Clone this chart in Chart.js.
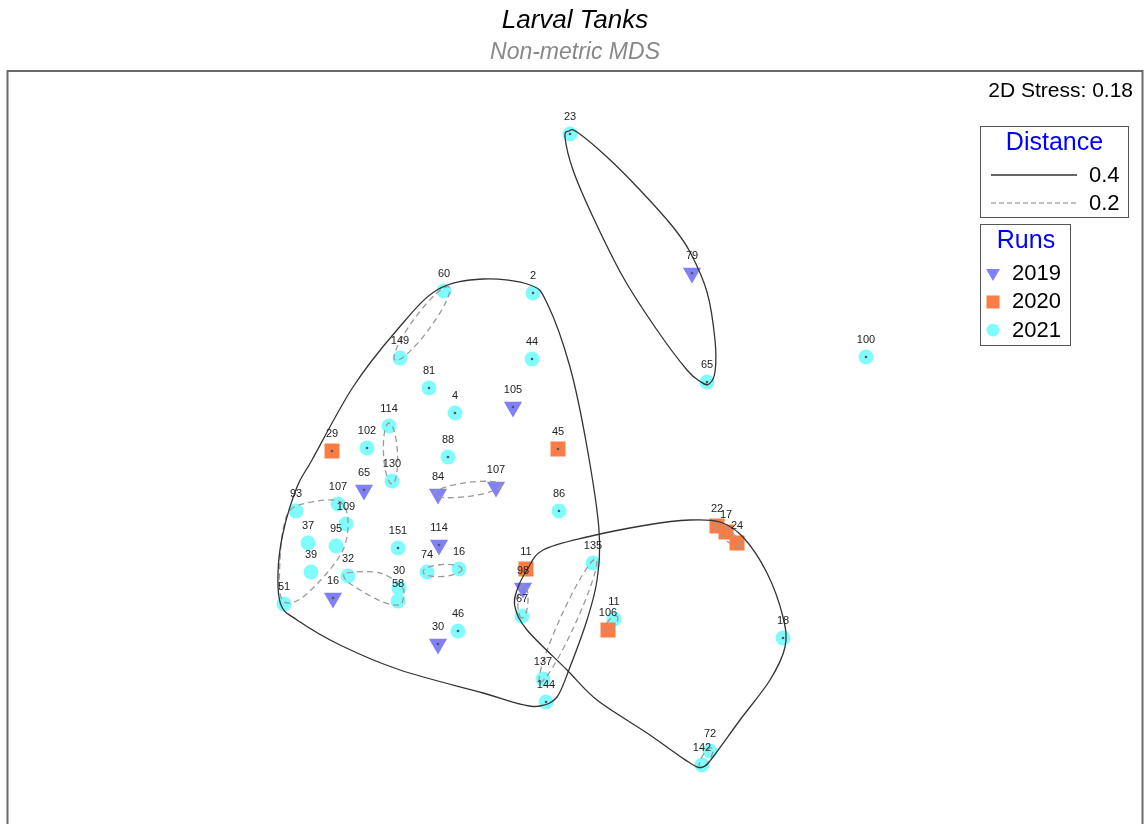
<!DOCTYPE html>
<html><head><meta charset="utf-8">
<script src="https://cdn.jsdelivr.net/npm/chart.js@4.4.1/dist/chart.umd.min.js"></script>
<style>html,body{margin:0;padding:0;background:#fff;overflow:hidden;}#wrap{position:relative;width:1145px;height:860px;}</style>
</head><body><div id="wrap"><canvas id="c"></canvas></div>
<script>
// ---- Data (MDS coordinates) ----
const labels2019 = ['79','105','65','84','107','114','16','30','98'];
const x2019 = [0.585,-0.31,-1.055,-0.685,-0.395,-0.68,-1.21,-0.685,-0.26];
const y2019 = [0.835,0.165,-0.25,-0.27,-0.235,-0.525,-0.79,-1.02,-0.74];
const dots2019 = [1,1,1,0,0,1,1,1,0];

const labels2020 = ['29','45','11','106','22','17','24'];
const x2020 = [-1.215,-0.085,-0.245,0.165,0.71,0.755,0.81];
const y2020 = [-0.055,-0.045,-0.645,-0.95,-0.43,-0.46,-0.515];
const dots2020 = [1,1,0,0,0,0,0];

const labels2021 = ['23','65','100','60','2','149','44','81','4','114','102','88','130','86','93','107','109','37','95','151','39','32','30','58','51','74','16','46','67','135','137','144','11','18','72','142'];
const x2021 = [-0.025,0.66,1.455,-0.655,-0.21,-0.875,-0.215,-0.73,-0.6,-0.93,-1.04,-0.635,-0.915,-0.08,-1.395,-1.185,-1.145,-1.335,-1.195,-0.885,-1.32,-1.135,-0.88,-0.885,-1.455,-0.74,-0.58,-0.585,-0.265,0.09,-0.16,-0.145,0.195,1.04,0.675,0.635];
const y2021 = [1.53,0.29,0.415,0.745,0.735,0.41,0.405,0.26,0.135,0.07,-0.04,-0.085,-0.205,-0.355,-0.355,-0.32,-0.42,-0.515,-0.53,-0.54,-0.66,-0.68,-0.74,-0.805,-0.82,-0.66,-0.645,-0.955,-0.88,-0.615,-1.195,-1.31,-0.895,-0.99,-1.555,-1.625];
const dots2021 = [1,1,1,0,1,0,1,1,1,0,1,1,0,1,0,0,0,0,0,1,0,0,0,0,0,0,0,1,0,0,0,1,0,1,0,0];

// Cluster contours at distance 0.4 (solid), outline points
const contour04 = [
  [[-0.69,0.75],[-0.46,0.805],[-0.225,0.775],[-0.14,0.685],[-0.025,0.365],[0.06,-0.035],[0.12,-0.45],[0.11,-0.70],[0.06,-0.90],[-0.025,-1.135],[-0.09,-1.285],[-0.175,-1.33],[-0.275,-1.32],[-0.46,-1.265],[-0.875,-1.15],[-1.175,-1.025],[-1.39,-0.90],[-1.47,-0.825],[-1.485,-0.665],[-1.46,-0.465],[-1.39,-0.235],[-1.315,-0.10],[-1.11,0.265],[-0.89,0.55]],
  [[-0.05,1.515],[-0.03,1.545],[0.01,1.54],[0.16,1.415],[0.325,1.25],[0.49,1.065],[0.575,0.94],[0.66,0.74],[0.70,0.50],[0.70,0.34],[0.67,0.28],[0.63,0.29],[0.56,0.35],[0.41,0.55],[0.24,0.815],[0.09,1.115],[-0.01,1.35]],
  [[-0.24,-0.65],[-0.16,-0.55],[0.06,-0.485],[0.36,-0.425],[0.575,-0.40],[0.725,-0.41],[0.84,-0.485],[0.96,-0.665],[1.04,-0.885],[1.05,-1.035],[0.975,-1.20],[0.825,-1.40],[0.69,-1.585],[0.64,-1.635],[0.575,-1.615],[0.36,-1.465],[0.11,-1.30],[-0.04,-1.15],[-0.24,-0.95],[-0.30,-0.835],[-0.29,-0.75]]
];
// Cluster contours at distance 0.2 (dashed), outline points
const contour02 = [
  [[-1.14,-0.665],[-0.975,-0.665],[-0.865,-0.735],[-0.86,-0.80],[-0.885,-0.825],[-0.96,-0.81],[-1.075,-0.75],[-1.145,-0.70]],
  [[-1.425,-0.35],[-1.34,-0.315],[-1.21,-0.30],[-1.15,-0.335],[-1.135,-0.435],[-1.16,-0.55],[-1.24,-0.665],[-1.36,-0.785],[-1.44,-0.815],[-1.475,-0.765],[-1.475,-0.60],[-1.46,-0.45]]
];
// Pairwise 0.2 contours as ellipses: end1 x,y, end2 x,y, half-width
const ellipse02 = [
  [-0.63,0.765,-0.90,0.40,0.045],
  [-0.93,0.085,-0.915,-0.22,0.035],
  [-0.705,-0.27,-0.37,-0.225,0.035],
  [-0.76,-0.66,-0.565,-0.645,0.03],
  [0.105,-0.595,-0.175,-1.21,0.04],
  [-0.255,-0.725,-0.265,-0.89,0.025],
  [0.155,-0.955,0.21,-0.88,0.02],
  [0.695,-0.415,0.83,-0.535,0.025],
  [0.685,-1.54,0.625,-1.64,0.02]
];
const runNames = ['2019','2020','2021'];
const distNames = ['0.4','0.2'];
const stressText = '2D Stress: 0.18';

const COL19 = '#8080f8', COL20 = '#fb7d45', COL21 = '#80fcfc';
const FONT = '"Liberation Sans", Arial, sans-serif';

function pts(xs, ys){ return xs.map((x,i)=>({x:x,y:ys[i]})); }

function closedSpline(ctx, P){
  const n = P.length;
  ctx.beginPath();
  ctx.moveTo(P[0][0], P[0][1]);
  for(let i=0;i<n;i++){
    const p0=P[(i-1+n)%n], p1=P[i], p2=P[(i+1)%n], p3=P[(i+2)%n];
    ctx.bezierCurveTo(p1[0]+(p2[0]-p0[0])/6, p1[1]+(p2[1]-p0[1])/6,
                      p2[0]-(p3[0]-p1[0])/6, p2[1]-(p3[1]-p1[1])/6, p2[0], p2[1]);
  }
  ctx.closePath();
}

const overlay = {
  id:'overlay',
  afterDatasetsDraw(chart){
    const ctx = chart.ctx, xs = chart.scales.x, ys = chart.scales.y, a = chart.chartArea;
    const px = v=>xs.getPixelForValue(v), py = v=>ys.getPixelForValue(v);
    const unit = px(1)-px(0);
    ctx.save();
    // small centre dots
    const groups = [[x2019,y2019,dots2019],[x2020,y2020,dots2020],[x2021,y2021,dots2021]];
    ctx.fillStyle = '#555';
    groups.forEach(g=>{ g[0].forEach((x,i)=>{ if(g[2][i]){ ctx.beginPath(); ctx.arc(px(x),py(g[1][i]),1.3,0,Math.PI*2); ctx.fill(); } }); });
    // dashed 0.2 contours
    ctx.strokeStyle = '#9a9a9a'; ctx.lineWidth = 1.3; ctx.setLineDash([6,4]);
    contour02.forEach(c=>{ closedSpline(ctx, c.map(p=>[px(p[0]),py(p[1])])); ctx.stroke(); });
    ellipse02.forEach(e=>{
      const x1=px(e[0]), y1=py(e[1]), x2=px(e[2]), y2=py(e[3]);
      const cx=(x1+x2)/2, cy=(y1+y2)/2, ra=Math.hypot(x2-x1,y2-y1)/2, rb=e[4]*unit;
      ctx.beginPath(); ctx.ellipse(cx,cy,ra,rb,Math.atan2(y2-y1,x2-x1),0,Math.PI*2); ctx.stroke();
    });
    // solid 0.4 contours
    ctx.setLineDash([]); ctx.strokeStyle = '#333'; ctx.lineWidth = 1.3;
    contour04.forEach(c=>{ closedSpline(ctx, c.map(p=>[px(p[0]),py(p[1])])); ctx.stroke(); });
    // point labels
    ctx.fillStyle = '#222'; ctx.font = '11px '+FONT; ctx.textAlign='center'; ctx.textBaseline='middle';
    const lg = [[x2019,y2019,labels2019],[x2020,y2020,labels2020],[x2021,y2021,labels2021]];
    lg.forEach(g=>{ g[0].forEach((x,i)=>{ ctx.fillText(g[2][i], px(x), py(g[1][i])-17); }); });
    // frame
    ctx.strokeStyle = '#6a6a6a'; ctx.lineWidth = 2;
    ctx.strokeRect(a.left, a.top, a.right-a.left, a.bottom-a.top);
    // titles
    ctx.textBaseline='alphabetic';
    ctx.fillStyle='#000'; ctx.font='italic 26px '+FONT; ctx.fillText('Larval Tanks', 575, 28);
    ctx.fillStyle='#888'; ctx.font='italic 23px '+FONT; ctx.fillText('Non-metric MDS', 575, 59);
    // stress
    ctx.fillStyle='#000'; ctx.font='21px '+FONT; ctx.textAlign='right'; ctx.fillText(stressText, 1133, 97);
    // Distance legend box
    ctx.lineWidth=1; ctx.strokeStyle='#555';
    ctx.strokeRect(980.5,126.5,148,91);
    ctx.textAlign='center'; ctx.fillStyle='#0000ff'; ctx.font='25px '+FONT; ctx.fillText('Distance', 1054.5, 150);
    ctx.strokeStyle='#333'; ctx.lineWidth=1.3; ctx.beginPath(); ctx.moveTo(991,175); ctx.lineTo(1077,175); ctx.stroke();
    ctx.strokeStyle='#aaa'; ctx.setLineDash([5,3]); ctx.beginPath(); ctx.moveTo(991,203); ctx.lineTo(1077,203); ctx.stroke(); ctx.setLineDash([]);
    ctx.fillStyle='#000'; ctx.font='22px '+FONT; ctx.textAlign='left';
    ctx.fillText(distNames[0], 1089, 182); ctx.fillText(distNames[1], 1089, 210);
    // Runs legend box
    ctx.strokeStyle='#555'; ctx.lineWidth=1; ctx.strokeRect(980.5,224.5,90,121);
    ctx.textAlign='center'; ctx.fillStyle='#0000ff'; ctx.font='25px '+FONT; ctx.fillText('Runs', 1026, 248);
    const H = Chart.helpers;
    ctx.fillStyle=COL19; ctx.strokeStyle=COL19;
    H.drawPoint(ctx,{pointStyle:'triangle',rotation:180,radius:8,borderWidth:0},993,273);
    ctx.fillStyle=COL20; ctx.strokeStyle=COL20;
    H.drawPoint(ctx,{pointStyle:'rect',rotation:0,radius:9.2,borderWidth:0},993,302);
    ctx.fillStyle=COL21; ctx.strokeStyle=COL21;
    H.drawPoint(ctx,{pointStyle:'circle',rotation:0,radius:6.5,borderWidth:0},993,330);
    ctx.fillStyle='#000'; ctx.font='22px '+FONT; ctx.textAlign='left';
    ctx.fillText(runNames[0],1012,280); ctx.fillText(runNames[1],1012,308); ctx.fillText(runNames[2],1012,337);
    ctx.restore();
  }
};

new Chart(document.getElementById('c'), {
  type:'scatter',
  data:{ datasets:[
    {label:runNames[0], data:pts(x2019,y2019), pointStyle:'triangle', rotation:180, pointRadius:10.5, pointBackgroundColor:COL19, pointBorderColor:COL19, pointBorderWidth:0},
    {label:runNames[1], data:pts(x2020,y2020), pointStyle:'rect', pointRadius:10.6, pointBackgroundColor:COL20, pointBorderColor:COL20, pointBorderWidth:0},
    {label:runNames[2], data:pts(x2021,y2021), pointStyle:'circle', pointRadius:7.5, pointBackgroundColor:COL21, pointBorderColor:COL21, pointBorderWidth:0}
  ]},
  options:{
    responsive:true, maintainAspectRatio:false, animation:false,
    layout:{autoPadding:false, padding:{left:7.5,right:2.5,top:71,bottom:0}},
    plugins:{legend:{display:false}, tooltip:{enabled:false}, title:{display:false}},
    scales:{
      x:{type:'linear', min:-2.8375, max:2.8375, display:false},
      y:{type:'linear', min:-2.1, max:1.845, display:false}
    }
  },
  plugins:[overlay]
});
</script></body></html>
